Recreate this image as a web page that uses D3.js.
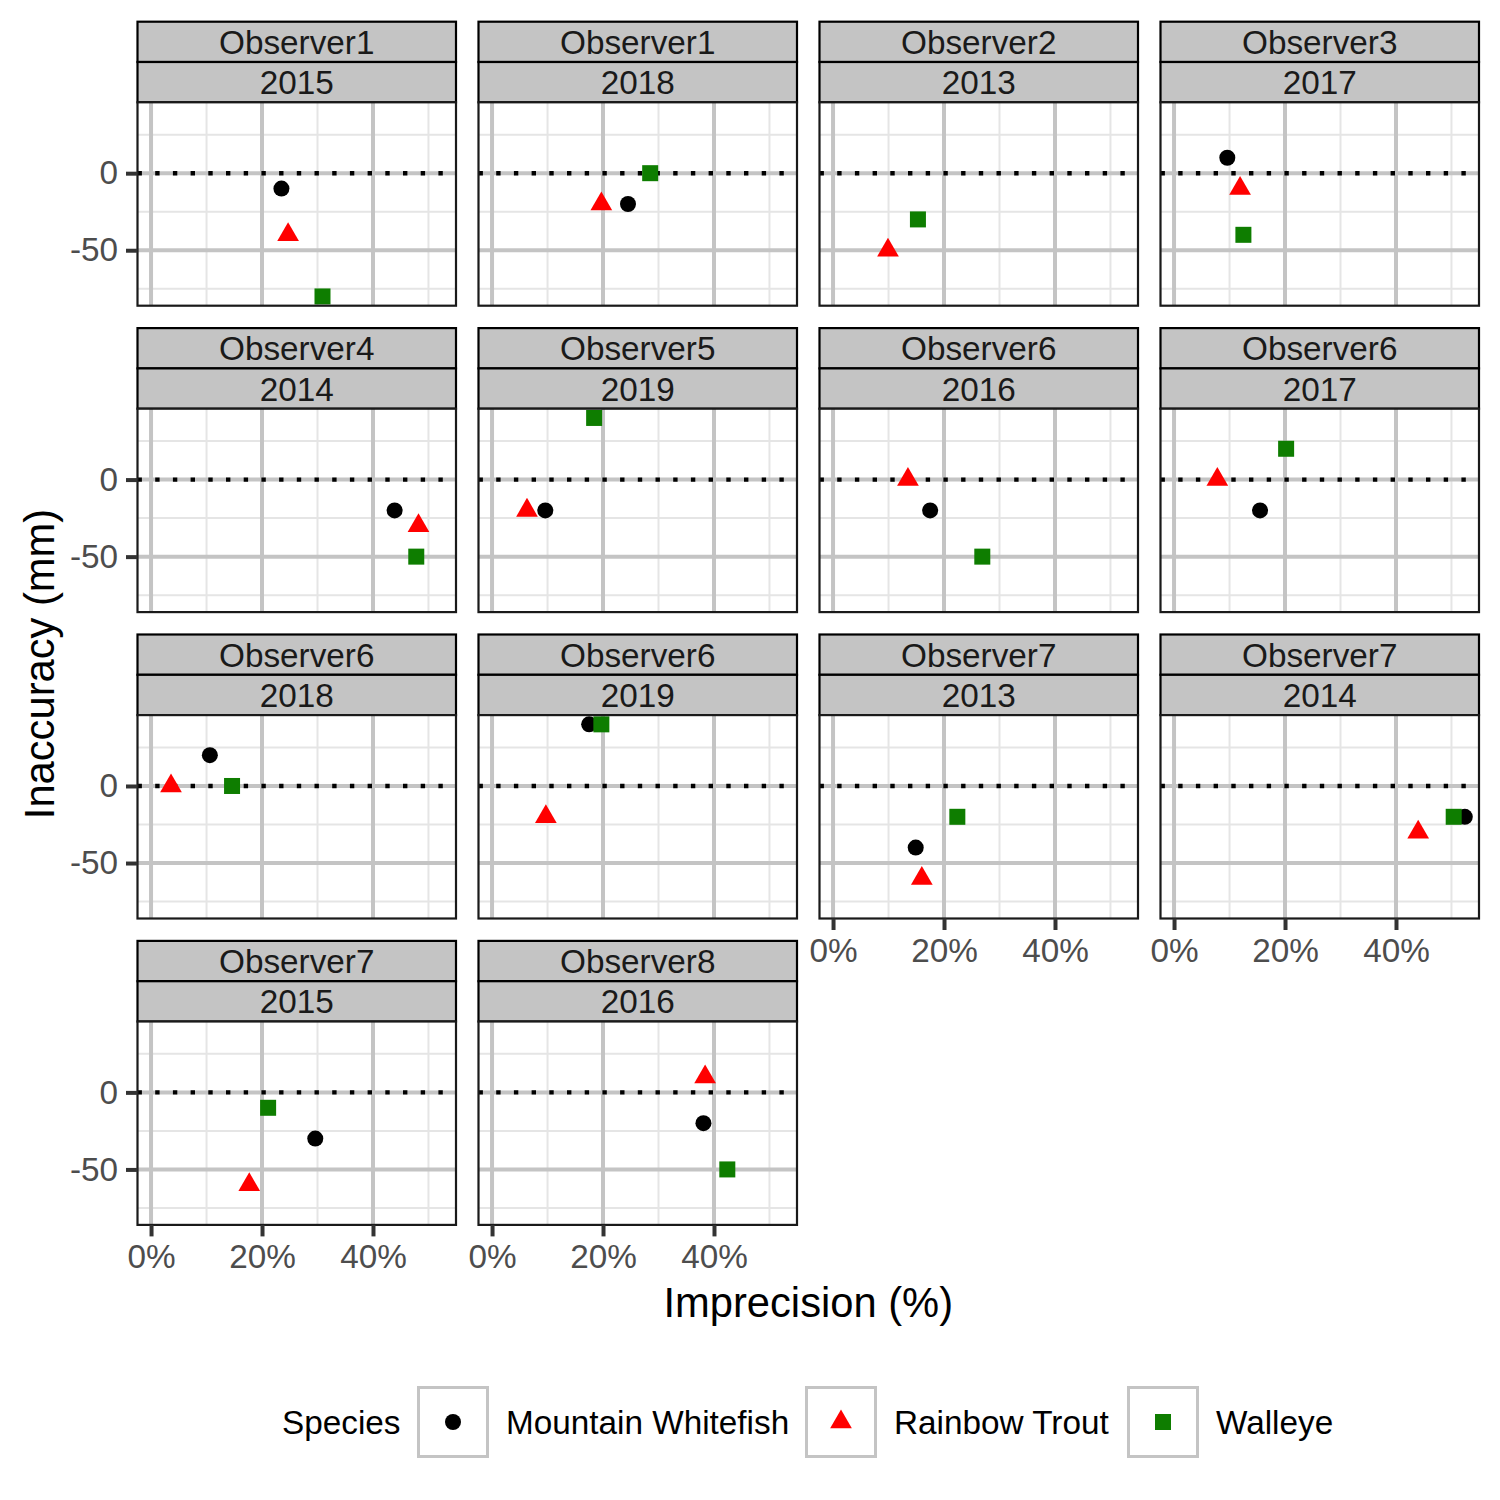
<!DOCTYPE html>
<html>
<head>
<meta charset="utf-8">
<script src="https://cdn.jsdelivr.net/npm/d3@7"></script>
<style>
  html, body { margin: 0; padding: 0; background: #fff; }
  svg { display: block; font-family: "Liberation Sans", Arial, Helvetica, sans-serif; }
</style>
</head>
<body>
<svg id="chart" width="1500" height="1500"></svg>
<script>
// ---------- DATA ----------
const observers = ["Observer1","Observer1","Observer2","Observer3","Observer4","Observer5","Observer6","Observer6","Observer6","Observer6","Observer7","Observer7","Observer7","Observer8"];
const years = ["2015","2018","2013","2017","2014","2019","2016","2017","2018","2019","2013","2014","2015","2016"];
const species = ["Mountain Whitefish","Rainbow Trout","Walleye"];
// imprecision (%) and inaccuracy (mm) per panel, one array pair per species
const mwImprecision = [23.5, 24.5, null, 9.6, 43.9, 9.6, 17.5, 15.5, 10.6, 17.5, 14.9, 52.4, 29.6, 38.1];
const mwInaccuracy  = [-10, -20, null, 10, -20, -20, -20, -20, 20, 40, -40, -20, -30, -20];
const rtImprecision = [24.7, 19.7, 9.9, 11.9, 48.2, 6.3, 13.5, 7.8, 3.6, 9.7, 16.0, 44.0, 17.7, 38.4];
const rtInaccuracy  = [-40, -20, -50, -10, -30, -20, 0, 0, 0, -20, -60, -30, -60, 10];
const wImprecision  = [30.9, 28.5, 15.3, 12.5, 47.8, 18.4, 26.9, 20.2, 14.6, 19.7, 22.4, 50.4, 21.1, 42.4];
const wInaccuracy   = [-80, 0, -30, -40, -50, 40, -50, 20, 0, 40, -20, -20, -10, -50];
const xTicks = [0, 20, 40];
const xMinor = [10, 30, 50];
const yTicks = [-50, 0];
const yMinor = [-75, -25, 25];
const xDomain = [-2.44, 54.96];
const yDomain = [-86, 46];

// ---------- STYLE / LAYOUT ----------
const colors = {"Mountain Whitefish": "#000000", "Rainbow Trout": "#FF0000", "Walleye": "#0E7D00"};
const shapes = {"Mountain Whitefish": "circle", "Rainbow Trout": "triangle", "Walleye": "square"};
const ncol = 4;
const panelLeft0 = 137.5, colStep = 341, pw = 318.5;
const stripTop0 = 21.7, rowStep = 306.4, stripH = 40.3, ph = 203.4;
const fontSmall = 33.3, fontTitle = 41.7;
const gridMajor = "#C4C4C4", gridMinorC = "#E5E5E5";

const svg = d3.select("#chart");
const x = d3.scaleLinear().domain(xDomain).range([0, pw]);
const y = d3.scaleLinear().domain(yDomain).range([ph, 0]);

// Build point table
const seriesX = [mwImprecision, rtImprecision, wImprecision];
const seriesY = [mwInaccuracy, rtInaccuracy, wInaccuracy];
const points = [];
observers.forEach((o, i) => {
  species.forEach((s, k) => {
    const xv = seriesX[k][i], yv = seriesY[k][i];
    if (xv != null && yv != null) points.push({panel: i, species: s, x: xv, y: yv});
  });
});

function drawShape(g, shape, color) {
  if (shape === "circle") {
    g.append("circle").attr("r", 8).attr("fill", color);
  } else if (shape === "triangle") {
    const s = 21.7, h = s * Math.sqrt(3) / 2;
    g.append("path")
      .attr("d", `M0,${-2*h/3} L${s/2},${h/3} L${-s/2},${h/3} Z`)
      .attr("fill", color);
  } else {
    g.append("rect").attr("x", -8).attr("y", -8).attr("width", 16).attr("height", 16).attr("fill", color);
  }
}

const nPanels = observers.length;
const nrow = Math.ceil(nPanels / ncol);
const defs = svg.append("defs");

observers.forEach((obs, i) => {
  const col = i % ncol, row = Math.floor(i / ncol);
  const left = panelLeft0 + col * colStep;
  const stripTop = stripTop0 + row * rowStep;
  const top = stripTop + 2 * stripH;

  // strips
  [obs, years[i]].forEach((label, j) => {
    const sy = stripTop + j * stripH;
    svg.append("rect")
      .attr("x", left).attr("y", sy).attr("width", pw).attr("height", stripH)
      .attr("fill", "#C4C4C4").attr("stroke", "#000").attr("stroke-width", 2.2);
    svg.append("text")
      .attr("x", left + pw / 2).attr("y", sy + stripH / 2)
      .attr("dy", "0.36em").attr("text-anchor", "middle")
      .attr("font-size", fontSmall).attr("fill", "#1A1A1A").text(label);
  });

  const g = svg.append("g").attr("transform", `translate(${left},${top})`);
  const clipId = "clip" + i;
  defs.append("clipPath").attr("id", clipId)
    .append("rect").attr("width", pw).attr("height", ph);

  g.append("rect").attr("width", pw).attr("height", ph).attr("fill", "#fff");
  const inner = g.append("g").attr("clip-path", `url(#${clipId})`);

  // minor grid
  inner.selectAll(".xmin").data(xMinor).enter().append("line")
    .attr("x1", d => x(d)).attr("x2", d => x(d)).attr("y1", 0).attr("y2", ph)
    .attr("stroke", gridMinorC).attr("stroke-width", 2);
  inner.selectAll(".ymin").data(yMinor).enter().append("line")
    .attr("y1", d => y(d)).attr("y2", d => y(d)).attr("x1", 0).attr("x2", pw)
    .attr("stroke", gridMinorC).attr("stroke-width", 2);
  // major grid
  inner.selectAll(".xmaj").data(xTicks).enter().append("line")
    .attr("x1", d => x(d)).attr("x2", d => x(d)).attr("y1", 0).attr("y2", ph)
    .attr("stroke", gridMajor).attr("stroke-width", 4);
  inner.selectAll(".ymaj").data(yTicks).enter().append("line")
    .attr("y1", d => y(d)).attr("y2", d => y(d)).attr("x1", 0).attr("x2", pw)
    .attr("stroke", gridMajor).attr("stroke-width", 4);

  // dotted reference line at 0
  inner.append("line")
    .attr("x1", 0).attr("x2", pw).attr("y1", y(0)).attr("y2", y(0))
    .attr("stroke", "#000").attr("stroke-width", 4.4)
    .attr("stroke-dasharray", "4.4 13.3");

  // points
  points.filter(p => p.panel === i).forEach(p => {
    const pg = inner.append("g").attr("transform", `translate(${x(p.x)},${y(p.y)})`);
    drawShape(pg, shapes[p.species], colors[p.species]);
  });

  // border
  g.append("rect").attr("width", pw).attr("height", ph)
    .attr("fill", "none").attr("stroke", "#1a1a1a").attr("stroke-width", 2.2);

  // y axis on first column
  if (col === 0) {
    const ay = g.append("g").call(d3.axisLeft(y).tickValues(yTicks).tickSize(11.5).tickPadding(8).tickFormat(d => String(d)));
    ay.select(".domain").remove();
    ay.selectAll("line").attr("stroke", "#333").attr("stroke-width", 4);
    ay.selectAll("text").attr("font-size", fontSmall).attr("fill", "#4D4D4D")
      .attr("font-family", "Liberation Sans, Arial, sans-serif");
  }
  // x axis on bottom panel of each column
  const isBottom = (i + ncol >= nPanels);
  if (isBottom) {
    const ax = g.append("g").attr("transform", `translate(0,${ph})`)
      .call(d3.axisBottom(x).tickValues(xTicks).tickSize(11.5).tickPadding(8).tickFormat(d => d + "%"));
    ax.select(".domain").remove();
    ax.selectAll("line").attr("stroke", "#333").attr("stroke-width", 4);
    ax.selectAll("text").attr("font-size", fontSmall).attr("fill", "#4D4D4D")
      .attr("font-family", "Liberation Sans, Arial, sans-serif");
  }
});

// axis titles
const plotLeft = panelLeft0, plotRight = panelLeft0 + (ncol - 1) * colStep + pw;
svg.append("text")
  .attr("x", (plotLeft + plotRight) / 2).attr("y", 1317)
  .attr("text-anchor", "middle").attr("font-size", fontTitle).attr("fill", "#000")
  .text("Imprecision (%)");
svg.append("text")
  .attr("transform", `translate(54,664) rotate(-90)`)
  .attr("text-anchor", "middle").attr("font-size", fontTitle).attr("fill", "#000")
  .text("Inaccuracy (mm)");

// legend
const legY = 1422;
svg.append("text").attr("x", 282).attr("y", legY).attr("dy", "0.36em")
  .attr("font-size", fontSmall).attr("fill", "#000").text("Species");
const keyX = [417, 805, 1127];
species.forEach((s, k) => {
  const kx = keyX[k];
  svg.append("rect").attr("x", kx + 1.5).attr("y", legY - 36 + 1.5).attr("width", 69).attr("height", 69)
    .attr("fill", "#fff").attr("stroke", gridMajor).attr("stroke-width", 3);
  const pg = svg.append("g").attr("transform", `translate(${kx + 36},${legY})`);
  drawShape(pg, shapes[s], colors[s]);
  svg.append("text").attr("x", kx + 89).attr("y", legY).attr("dy", "0.36em")
    .attr("font-size", fontSmall).attr("fill", "#000").text(s);
});
</script>
</body>
</html>
